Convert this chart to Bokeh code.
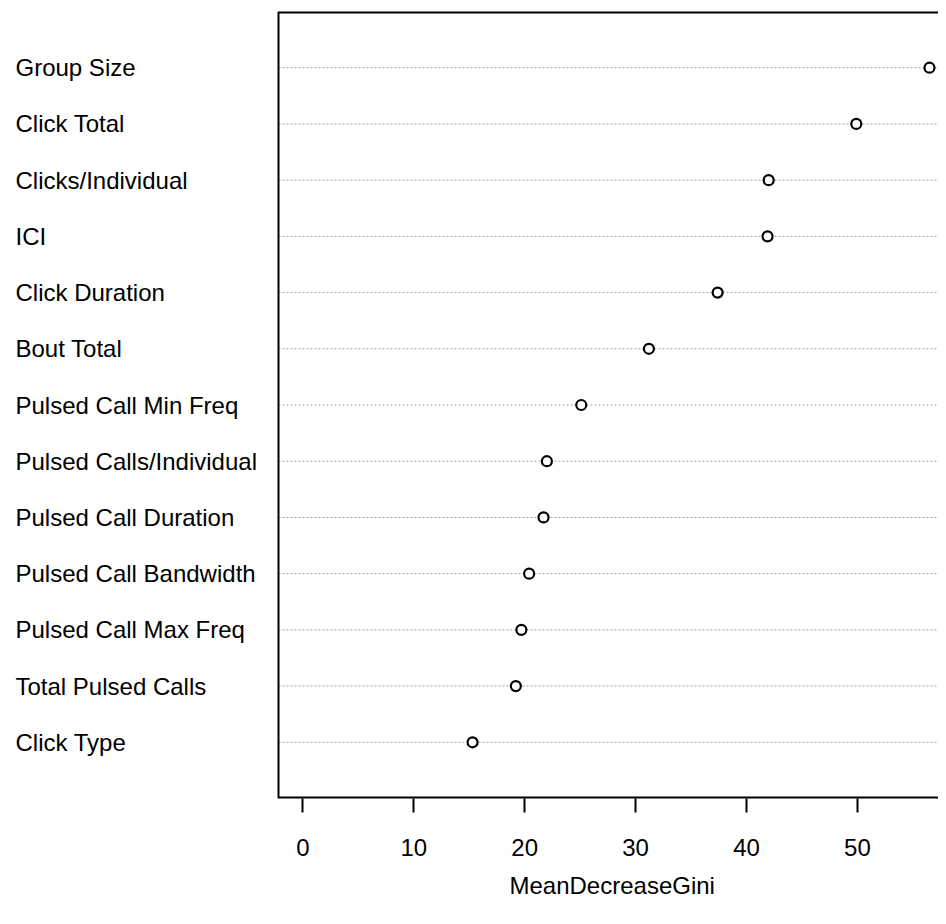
from bokeh.plotting import figure
from bokeh.models import Range1d, FixedTicker, LinearAxis, Span, ColumnDataSource, Title
from bokeh.core.properties import value
from bokeh.embed import file_html
from bokeh.resources import INLINE

# Data (top to bottom as shown)
variables = ["Group Size", "Click Total", "Clicks/Individual", "ICI", "Click Duration",
             "Bout Total", "Pulsed Call Min Freq", "Pulsed Calls/Individual",
             "Pulsed Call Duration", "Pulsed Call Bandwidth", "Pulsed Call Max Freq",
             "Total Pulsed Calls", "Click Type"]
mean_decrease_gini = [56.5, 49.9, 42.0, 41.9, 37.4, 31.2, 25.1, 22.0, 21.7, 20.4, 19.7, 19.2, 15.3]
x_ticks = [0, 10, 20, 30, 40, 50]
x_title = "MeanDecreaseGini"

n = len(variables)
positions = [n - i for i in range(n)]

FONT = "Liberation Sans"
FS = "24px"

# layout geometry (screen pixels)
W, H = 938, 916
BOX_LEFT_PX = 278          # left edge of the dot-chart box
LABEL_LEFT_PX = 15         # left edge of variable names
PX_PER_UNIT = 11.09
X_START = -2.2             # data value at the box's left edge
x_lo = X_START - BOX_LEFT_PX / PX_PER_UNIT
x_hi = X_START + (W - BOX_LEFT_PX) / PX_PER_UNIT
label_x = X_START - (BOX_LEFT_PX - LABEL_LEFT_PX) / PX_PER_UNIT

p = figure(width=W, height=H, output_backend="svg", toolbar_location=None,
           x_range=Range1d(x_lo, x_hi), y_range=Range1d(0, n + 1),
           min_border_left=0, min_border_right=0, min_border_top=11, min_border_bottom=118,
           x_axis_location=None, y_axis_location=None)
p.outline_line_color = None
p.background_fill_color = "white"
p.border_fill_color = "white"
p.xgrid.visible = False
p.ygrid.visible = False

# bottom axis (ticks + labels only; box line drawn separately)
xa = LinearAxis(ticker=FixedTicker(ticks=x_ticks))
xa.axis_line_color = None
xa.major_tick_out = 14
xa.major_tick_in = 0
xa.major_tick_line_width = 2
xa.major_tick_line_color = "black"
xa.minor_tick_line_color = None
xa.major_label_standoff = 26
xa.major_label_text_font = FONT
xa.major_label_text_font_size = FS
xa.major_label_text_color = "black"
p.add_layout(xa, "below")

# axis title, centred under the box
p.add_layout(Title(text=x_title, align="left", offset=509, standoff=22,
                   text_font=FONT, text_font_size=FS, text_font_style="normal",
                   text_color="black"), "below")

# dotted guide lines for each variable, from the box edge
p.segment(x0=X_START, x1=x_hi, y0=positions, y1=positions,
          line_color="#a0a0a0", line_dash="2 2", line_width=1)

# box: left line, top and bottom lines
p.add_layout(Span(location=X_START, dimension="height", line_color="black", line_width=2))
p.segment(x0=X_START, x1=x_hi, y0=[0, n + 1], y1=[0, n + 1], line_color="black", line_width=4)

# points
src = ColumnDataSource(dict(x=mean_decrease_gini, y=positions))
p.scatter(x="x", y="y", source=src, marker="circle", size=10,
          fill_color="white", line_color="black", line_width=2.2)

# variable labels on the left
p.text(x=label_x, y=positions, text=variables, text_align="left", text_baseline="middle",
       text_font=value(FONT), text_font_size=value(FS), text_color="black")

open("out.html", "w").write(file_html(p, INLINE))
